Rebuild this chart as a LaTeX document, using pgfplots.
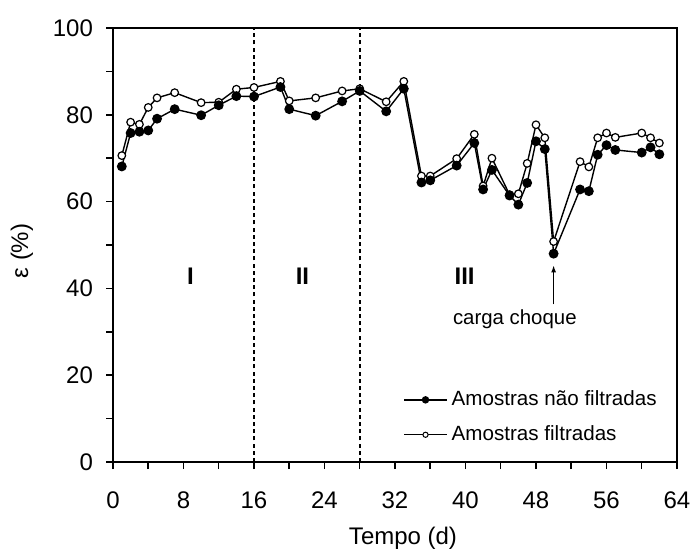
\documentclass[border=0pt]{standalone}
\usepackage{fontspec}
\setmainfont{Liberation Sans}
\usepackage{pgfplots}
\pgfplotsset{compat=1.18}
\usetikzlibrary{arrows.meta}
\begin{document}
\begin{tikzpicture}
\path[use as bounding box] (-56.5pt,-45pt) rectangle (291.5pt,231pt);
\begin{axis}[
  scale only axis, width=282pt, height=217pt,
  at={(0pt,0pt)}, anchor=south west,
  xmin=0, xmax=64, ymin=0, ymax=100,
  xtick={0,8,...,64}, minor xtick={4,12,...,60},
  ytick={0,20,...,100}, minor ytick={10,30,...,90},
  tick align=outside, tick pos=left,
  major tick length=3.5pt, minor tick length=3.5pt,
  axis line style={line width=0.75pt},
  every tick/.style={black, line width=0.75pt},
  /pgf/number format/assume math mode=true,
  tick label style={font=\fontsize{12}{14}\selectfont},
  xticklabel style={yshift=-8pt},
  yticklabel style={xshift=-3pt},
  xlabel={Tempo (d)}, ylabel={ε (\%)},
  label style={font=\fontsize{12}{14}\selectfont},
  xlabel style={xshift=4pt, yshift=-2pt},
  ylabel style={yshift=3pt, xshift=-3pt},
  clip=false,
  legend image code/.code={\draw[mark repeat=2,mark phase=2,#1] plot coordinates {(0pt,0pt) (10.75pt,0pt) (21.5pt,0pt)};},
  legend style={at={(axis cs:32.9,17.4)}, anchor=north west, draw=none, fill=none,
    inner sep=0pt, row sep=4.5pt, cells={anchor=west},
    font=\fontsize{10.3}{12}\selectfont},
]
% dashed phase separators
\addplot[black, line width=0.8pt, dash pattern=on 2pt off 1.6pt, forget plot] coordinates {(16,0) (16,100)};
\addplot[black, line width=0.8pt, dash pattern=on 2pt off 1.6pt, forget plot] coordinates {(28,0) (28,100)};
% filtered (open)
\addplot[black, line width=0.7pt, mark=*, mark size=1.9pt, mark options={fill=white, line width=0.6pt}, forget plot] coordinates {
(1,70.6) (2,78.3) (3,77.8) (4,81.7) (5,83.9) (7,85.1) (10,82.8) (12,82.9) (14,85.9) (16,86.3)
(19,87.7) (20,83.2) (23,83.9) (26,85.5) (28,86.0) (31,83.0) (33,87.7) (35,65.9) (36,65.9)
(39,69.9) (41,75.5) (42,63.6) (43,70.0) (45,61.6) (46,61.8) (47,68.8) (48,77.7) (49,74.7)
(50,50.8) (53,69.2) (54,68.0) (55,74.7) (56,75.8) (57,74.8) (60,75.8) (61,74.7) (62,73.5)};
% unfiltered (filled)
\addplot[black, line width=0.7pt, mark=*, mark size=2.1pt, mark options={fill=black}, forget plot] coordinates {
(1,68.1) (2,75.8) (3,76.1) (4,76.4) (5,79.1) (7,81.3) (10,79.9) (12,82.2) (14,84.3) (16,84.2)
(19,86.4) (20,81.3) (23,79.8) (26,83.1) (28,85.5) (31,80.8) (33,86.0) (35,64.4) (36,64.9)
(39,68.3) (41,73.5) (42,62.8) (43,67.3) (45,61.4) (46,59.3) (47,64.3) (48,73.9) (49,72.1)
(50,48.0) (53,62.8) (54,62.4) (55,70.8) (56,73.0) (57,71.9) (60,71.3) (61,72.5) (62,70.9)};
\addlegendimage{black, line width=0.7pt, mark=*, mark size=1.5pt, mark options={fill=black}}
\addlegendentry{Amostras não filtradas}
\addlegendimage{black, line width=0.7pt, mark=*, mark size=1.3pt, mark options={fill=white, line width=0.5pt}}
\addlegendentry{Amostras filtradas}
\node[font=\bfseries\fontsize{12}{14}\selectfont] at (axis cs:8.8,42.8) {I};
\node[font=\bfseries\fontsize{12}{14}\selectfont] at (axis cs:21.5,42.8) {II};
\node[font=\bfseries\fontsize{12}{14}\selectfont] at (axis cs:39.9,42.8) {III};
\node[font=\fontsize{10.2}{12}\selectfont] at (axis cs:45.6,32.8) {carga choque};
\draw[line width=0.6pt, -{Latex[length=3.5pt,width=2.5pt]}] (axis cs:50,36.3) -- (axis cs:50,45.3);
\end{axis}
\end{tikzpicture}
\end{document}
